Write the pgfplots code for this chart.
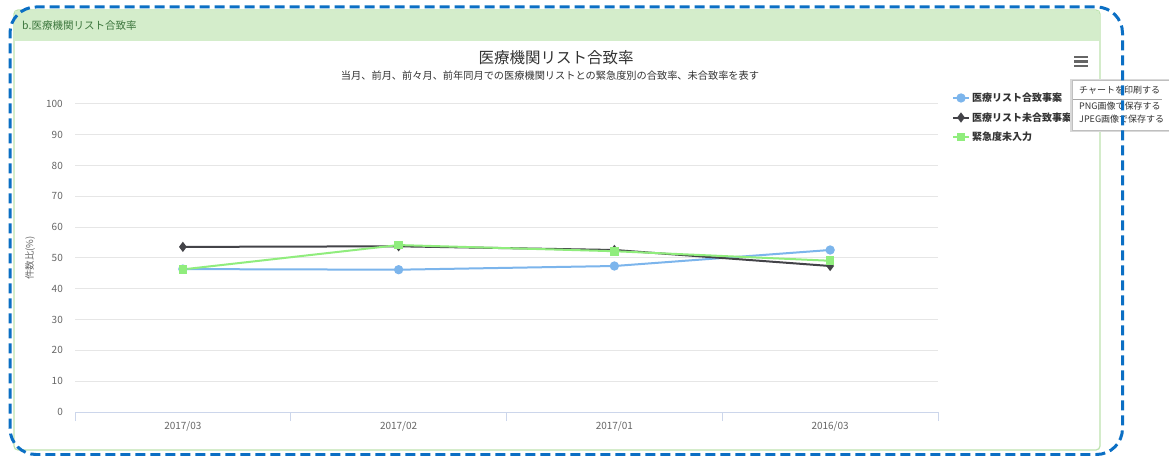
\documentclass[border=0pt]{standalone}
\usepackage{fontspec}
\setmainfont{Noto Sans CJK JP}
\usepackage{pgfplots}
\pgfplotsset{compat=1.18}
\definecolor{hcblue}{HTML}{7CB5EC}
\definecolor{hcdark}{HTML}{434348}
\definecolor{hcgreen}{HTML}{90ED7D}
\definecolor{gridc}{HTML}{E6E6E6}
\definecolor{axisc}{HTML}{CCD6EB}
\definecolor{tickc}{HTML}{666666}
\definecolor{titlec}{HTML}{333333}
\definecolor{hdrfill}{HTML}{D4EDCB}
\definecolor{hdrline}{HTML}{BDE3AE}
\definecolor{hdrtext}{HTML}{3C763D}
\definecolor{dashc}{HTML}{0B6FC4}
\begin{document}
\begin{tikzpicture}[x=1pt,y=1pt]
\useasboundingbox (0,0) rectangle (1169,455);
\fill[white] (0,0) rectangle (1169,455);
% panel
\draw[hdrline, line width=1.2pt, rounded corners=4pt] (14,5) rectangle (1100,445);
\fill[hdrfill] (14.6,414.3) rectangle (1099.4,444.4);
\node[anchor=west, text=hdrtext, font=\fontsize{10.5}{12}\selectfont, inner sep=0pt] at (22,429) {b.医療機関リスト合致率};
\node[text=titlec, font=\fontsize{15.5}{18}\selectfont, inner sep=0pt] at (556,397) {医療機関リスト合致率};
\node[text=titlec, font=\fontsize{10.2}{12}\selectfont, inner sep=0pt] at (550,379) {当月、前月、前々月、前年同月での医療機関リストとの緊急度別の合致率、未合致率を表す};
% hamburger icon
\foreach \yy in {389,393.5,398} \draw[tickc, line width=2.2pt] (1074,\yy) -- (1088,\yy);
\begin{axis}[
  at={(75pt,43pt)}, anchor=south west, scale only axis,
  width=863pt, height=308pt,
  xmin=-0.5, xmax=3.5, ymin=0, ymax=100,
  xtick={0,1,2,3}, xticklabels={2017/03,2017/02,2017/01,2016/03},
  ytick={0,10,...,100},
  ymajorgrids, grid style={gridc, line width=1pt},
  axis x line*=bottom, axis y line*=left,
  y axis line style={draw=none},
  x axis line style={draw=axisc, line width=1pt},
  major tick length=0pt,
  xtick style={draw=none}, ytick style={draw=none},
  extra x ticks={-0.5,0.5,1.5,2.5,3.5}, extra x tick labels={},
  extra x tick style={xtick style={draw=axisc, line width=1pt}, major tick length=9pt, tick align=outside, grid=none},
  tick label style={font=\fontsize{10}{12}\selectfont, text=tickc},
  /pgf/number format/assume math mode=true,
  yticklabel style={inner sep=0pt, xshift=-12pt},
  xticklabel style={inner sep=0pt, yshift=-9pt},
  ylabel={件数比(\%)},
  every axis y label/.style={at={(axis description cs:-0.052,0.5)}, rotate=90, anchor=center, font=\fontsize{9.5}{11}\selectfont, text=tickc},
  legend style={at={(1.016,1.043)}, anchor=north west, draw=none, fill=none,
    font=\bfseries\fontsize{10}{12}\selectfont, text=titlec, row sep=5.5pt, inner sep=0pt},
  legend cell align=left,
  legend image code/.code={\draw[mark repeat=2,mark phase=2,#1] plot coordinates {(0pt,0pt)(8pt,0pt)(16pt,0pt)};},
]
\addplot[hcblue, line width=2pt, mark=*, mark size=3.6pt] coordinates {(0,46.4)(1,46.2)(2,47.4)(3,52.6)};
\addlegendentry{医療リスト合致事案}
\addplot[hcdark, line width=2pt, mark=diamond*, mark size=3.5pt] coordinates {(0,53.6)(1,53.8)(2,52.6)(3,47.4)};
\addlegendentry{医療リスト未合致事案}
\addplot[hcgreen, line width=2pt, mark=square*, mark size=3.3pt] coordinates {(0,46.3)(1,54.2)(2,52.2)(3,49.1)};
\addlegendentry{緊急度未入力}
\end{axis}
% context menu
\fill[black!15] (1070,323) rectangle (1170,376);
\fill[white] (1072,325) rectangle (1170,375);
\draw[black!25, line width=0.6pt] (1072,325) rectangle (1170,375);
\draw[black!35, line width=0.6pt] (1073,356) -- (1162,356);
\node[anchor=west, inner sep=0pt, text=titlec, font=\fontsize{9}{10}\selectfont] at (1079,365) {チャートを印刷する};
\node[anchor=west, inner sep=0pt, text=titlec, font=\fontsize{9}{10}\selectfont] at (1079,349) {PNG画像で保存する};
\node[anchor=west, inner sep=0pt, text=titlec, font=\fontsize{9}{10}\selectfont] at (1079,336) {JPEG画像で保存する};
% annotation dashed border
\draw[dashc, line width=3pt, dash pattern=on 10pt off 5pt, rounded corners=26pt] (10,0.5) rectangle (1122.5,448);
\end{tikzpicture}
\end{document}
